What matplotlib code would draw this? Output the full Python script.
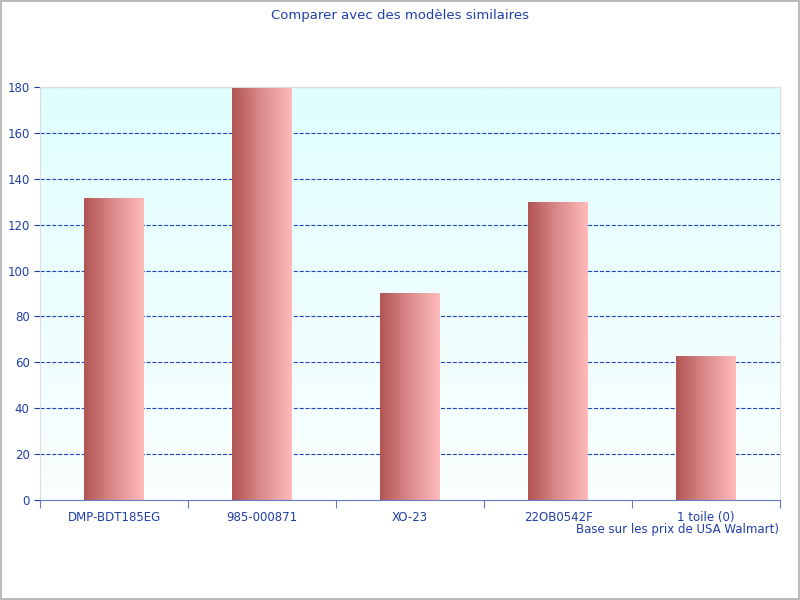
import matplotlib.pyplot as plt
import numpy as np
from matplotlib.colors import LinearSegmentedColormap

models = ["DMP-BDT185EG", "985-000871", "XO-23", "22OB0542F", "1 toile (0)"]
prices = [131.5, 179.5, 90, 129.5, 62.5]

blue = "#1f3fa8"
fig = plt.figure(figsize=(8, 6), dpi=100)
fig.patch.set_edgecolor("#bbbbbb")
fig.patch.set_linewidth(1.5)
ax = fig.add_axes([0.05, 1 - 500 / 600, 0.925, 413 / 600])

x = np.arange(len(models))
ax.set_xlim(-0.5, len(models) - 0.5)
ax.set_ylim(0, 180)

# background gradient
bg = LinearSegmentedColormap.from_list("bg", ["#fafefe", "#e0ffff"])
ax.imshow(np.linspace(0, 1, 256).reshape(-1, 1), cmap=bg, aspect="auto",
          extent=[-0.5, len(models) - 0.5, 0, 180], origin="lower", zorder=0)

for y in range(20, 181, 20):
    ax.axhline(y, color="#2244bb", linestyle="--", linewidth=0.8, zorder=1)

barcm = LinearSegmentedColormap.from_list("bar", ["#b05454", "#dc8c8c", "#ffbaba"])
grad = np.linspace(0, 1, 256).reshape(1, -1)
w = 0.4
for xi, v in zip(x, prices):
    ax.imshow(grad, cmap=barcm, aspect="auto",
              extent=[xi - w / 2, xi + w / 2, 0, v], zorder=2)

ax.set_xticks(np.arange(len(models) + 1) - 0.5, minor=False)
ax.set_xticklabels([])
ax.set_xticks(x, minor=True)
ax.set_xticklabels(models, minor=True)
ax.tick_params(axis="x", which="minor", length=0, colors=blue, labelsize=8.5, pad=8)
ax.tick_params(axis="x", which="major", length=6, color="#6677cc")
ax.set_yticks(range(0, 181, 20))
ax.tick_params(axis="y", colors=blue, labelsize=8.5, length=4)
for s in ["top", "right"]:
    ax.spines[s].set_color("#dddddd")
ax.spines["left"].set_color("#dddddd")
ax.spines["bottom"].set_color("#6677cc")

fig.text(0.5, 0.975, "Comparer avec des modèles similaires", ha="center",
         va="center", color=blue, fontsize=9.5)
fig.text(0.974, 1 - 530 / 600, "Base sur les prix de USA Walmart)", ha="right",
         va="center", color=blue, fontsize=8.5)

fig.savefig("out.png")
